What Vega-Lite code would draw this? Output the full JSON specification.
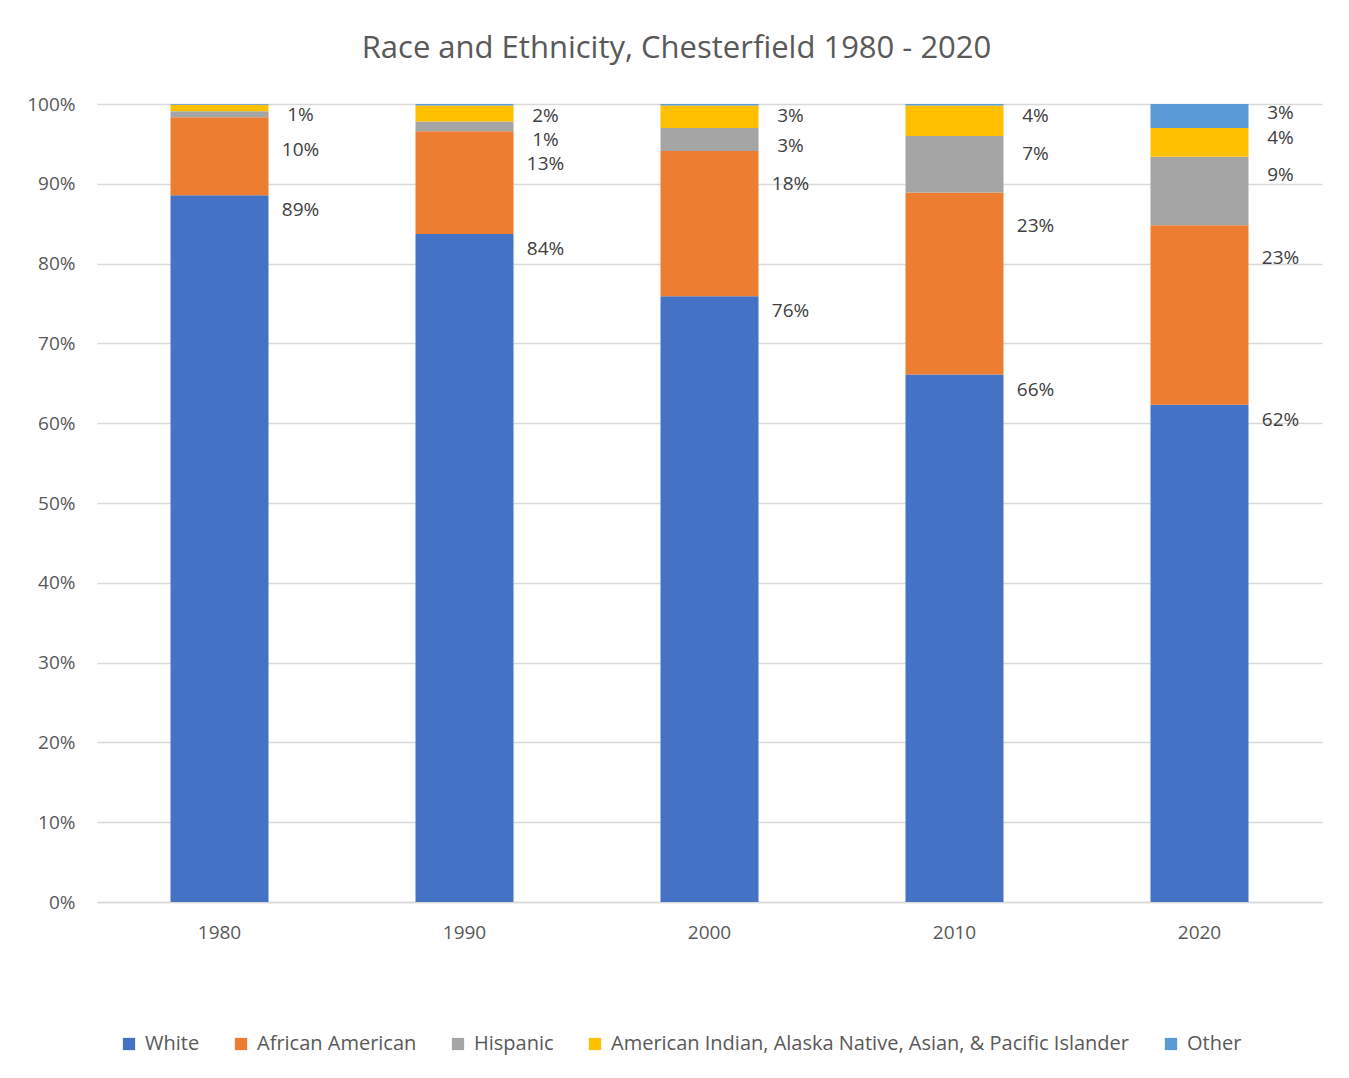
{
  "$schema": "https://vega.github.io/schema/vega-lite/v6.json",
  "autosize": "none",
  "width": 1225,
  "height": 798,
  "padding": {"left": 97, "top": 104, "right": 27, "bottom": 176},
  "background": "white",
  "config": {
    "view": {"stroke": null},
    "text": {"font": "Open Sans", "fontSize": 19, "color": "#404040", "dx": 81, "align": "center", "baseline": "middle"}
  },
  "title": {
    "text": "Race and Ethnicity, Chesterfield 1980 - 2020",
    "font": "Open Sans",
    "fontSize": 31,
    "fontWeight": "normal",
    "color": "#595959",
    "anchor": "middle",
    "dx": -33,
    "offset": 30
  },
  "data": {
    "values": [
      {"year": "1980", "group": "White", "rank": 1, "share": 0.8855, "label": "89%"},
      {"year": "1980", "group": "African American", "rank": 2, "share": 0.098, "label": "10%"},
      {"year": "1980", "group": "Hispanic", "rank": 3, "share": 0.0075, "label": ""},
      {"year": "1980", "group": "American Indian, Alaska Native, Asian, & Pacific Islander", "rank": 4, "share": 0.008, "label": "1%"},
      {"year": "1980", "group": "Other", "rank": 5, "share": 0.001, "label": ""},
      {"year": "1990", "group": "White", "rank": 1, "share": 0.837, "label": "84%"},
      {"year": "1990", "group": "African American", "rank": 2, "share": 0.129, "label": "13%"},
      {"year": "1990", "group": "Hispanic", "rank": 3, "share": 0.012, "label": "1%"},
      {"year": "1990", "group": "American Indian, Alaska Native, Asian, & Pacific Islander", "rank": 4, "share": 0.020, "label": "2%"},
      {"year": "1990", "group": "Other", "rank": 5, "share": 0.002, "label": ""},
      {"year": "2000", "group": "White", "rank": 1, "share": 0.759, "label": "76%"},
      {"year": "2000", "group": "African American", "rank": 2, "share": 0.182, "label": "18%"},
      {"year": "2000", "group": "Hispanic", "rank": 3, "share": 0.029, "label": "3%"},
      {"year": "2000", "group": "American Indian, Alaska Native, Asian, & Pacific Islander", "rank": 4, "share": 0.028, "label": "3%"},
      {"year": "2000", "group": "Other", "rank": 5, "share": 0.002, "label": ""},
      {"year": "2010", "group": "White", "rank": 1, "share": 0.661, "label": "66%"},
      {"year": "2010", "group": "African American", "rank": 2, "share": 0.228, "label": "23%"},
      {"year": "2010", "group": "Hispanic", "rank": 3, "share": 0.071, "label": "7%"},
      {"year": "2010", "group": "American Indian, Alaska Native, Asian, & Pacific Islander", "rank": 4, "share": 0.038, "label": "4%"},
      {"year": "2010", "group": "Other", "rank": 5, "share": 0.002, "label": ""},
      {"year": "2020", "group": "White", "rank": 1, "share": 0.623, "label": "62%"},
      {"year": "2020", "group": "African American", "rank": 2, "share": 0.225, "label": "23%"},
      {"year": "2020", "group": "Hispanic", "rank": 3, "share": 0.086, "label": "9%"},
      {"year": "2020", "group": "American Indian, Alaska Native, Asian, & Pacific Islander", "rank": 4, "share": 0.036, "label": "4%"},
      {"year": "2020", "group": "Other", "rank": 5, "share": 0.030, "label": "3%"}
    ]
  },
  "transform": [
    {"stack": "share", "groupby": ["year"], "sort": [{"field": "rank", "order": "ascending"}], "as": ["y0", "y1"]}
  ],
  "encoding": {
    "x": {
      "field": "year",
      "type": "nominal",
      "scale": {"paddingInner": 0.6, "paddingOuter": 0.3},
      "axis": {
        "title": null,
        "labelAngle": 0,
        "labelFont": "Open Sans",
        "labelFontSize": 19,
        "labelColor": "#595959",
        "labelPadding": 21,
        "ticks": false,
        "domainColor": "#d9d9d9",
        "domainWidth": 1.5,
        "grid": false
      }
    },
    "y": {
      "field": "y1",
      "type": "quantitative",
      "scale": {"domain": [0, 1], "nice": false},
      "axis": {
        "title": null,
        "values": [0, 0.1, 0.2, 0.3, 0.4, 0.5, 0.6, 0.7, 0.8, 0.9, 1],
        "format": ".0%",
        "labelFont": "Open Sans",
        "labelFontSize": 19,
        "labelColor": "#595959",
        "labelPadding": 22,
        "ticks": false,
        "domain": false,
        "gridColor": "#d9d9d9",
        "gridWidth": 1.5
      }
    }
  },
  "layer": [
    {
      "mark": {"type": "bar"},
      "encoding": {
        "y2": {"field": "y0"},
        "color": {
          "field": "group",
          "type": "nominal",
          "sort": ["White", "African American", "Hispanic", "American Indian, Alaska Native, Asian, & Pacific Islander", "Other"],
          "scale": {
            "domain": ["White", "African American", "Hispanic", "American Indian, Alaska Native, Asian, & Pacific Islander", "Other"],
            "range": ["#4472C4", "#ED7D31", "#A5A5A5", "#FFC000", "#5B9BD5"]
          },
          "legend": {
            "title": null,
            "orient": "none",
            "direction": "horizontal",
            "legendX": 22,
            "legendY": 930,
            "symbolType": "square",
            "symbolSize": 150,
            "symbolStrokeWidth": 0,
            "labelFont": "Open Sans",
            "labelFontSize": 20,
            "labelColor": "#595959",
            "labelOffset": 6,
            "columnPadding": 31,
            "labelLimit": 800
          }
        }
      }
    },
    {
      "transform": [{"filter": "datum.group == 'White' && datum.label != ''"}],
      "mark": {"type": "text", "dy": 15},
      "encoding": {"text": {"field": "label"}}
    },
    {
      "transform": [{"filter": "datum.group == 'African American' && datum.label != ''"}],
      "mark": {"type": "text", "dy": 33},
      "encoding": {"text": {"field": "label"}}
    },
    {
      "transform": [{"filter": "datum.group == 'Hispanic' && datum.label != ''"}],
      "mark": {"type": "text", "dy": 18},
      "encoding": {"text": {"field": "label"}}
    },
    {
      "transform": [{"filter": "datum.group == 'American Indian, Alaska Native, Asian, & Pacific Islander' && datum.label != ''"}],
      "mark": {"type": "text", "dy": 10},
      "encoding": {"text": {"field": "label"}}
    },
    {
      "transform": [{"filter": "datum.group == 'Other' && datum.label != ''"}],
      "mark": {"type": "text", "dy": 9},
      "encoding": {"text": {"field": "label"}}
    }
  ]
}
